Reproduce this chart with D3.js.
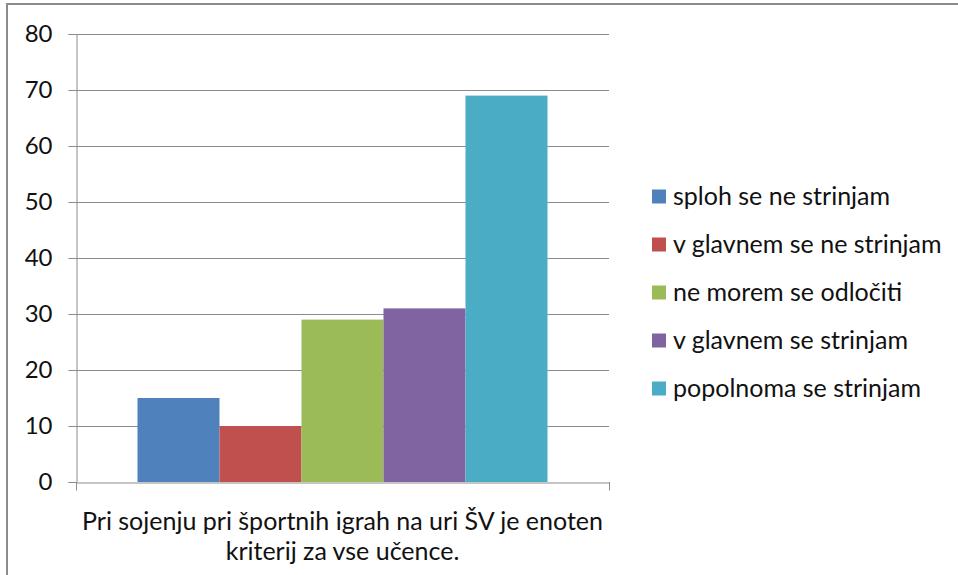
<!DOCTYPE html>
<html><head><meta charset="utf-8">
<script src="https://cdn.jsdelivr.net/npm/d3@7"></script>
<style>body{margin:0;background:#fff}svg{display:block}text{font-family:Lato,"Open Sans",sans-serif;fill:#111}</style>
</head><body>
<script>
const category = "Pri sojenju pri športnih igrah na uri ŠV je enoten kriterij za vse učence.";
const categoryLines = ["Pri sojenju pri športnih igrah na uri ŠV je enoten", "kriterij za vse učence."];
const seriesNames = ["sploh se ne strinjam","v glavnem se ne strinjam","ne morem se odločiti","v glavnem se strinjam","popolnoma se strinjam"];
const seriesValues = [15,10,29,31,69];
const colors = ["#4f81bd","#c0504d","#9bbb59","#8064a2","#4bacc6"];
const yTicks = [0,10,20,30,40,50,60,70,80];

const W=958,H=575;
const svg=d3.select("body").append("svg").attr("width",W).attr("height",H);
svg.append("rect").attr("x",7).attr("y",4).attr("width",W+20).attr("height",H+20)
  .attr("fill","none").attr("stroke","#8c8c8c").attr("stroke-width",2);

const L=76,R=609,T=34,B=482;
const y=d3.scaleLinear().domain([0,80]).range([B,T]);
const x0=d3.scaleBand().domain([category]).range([L,R]).paddingInner(0).paddingOuter(0.15);
const x1=d3.scaleBand().domain(seriesNames).range([x0(category),x0(category)+x0.bandwidth()]);

// gridlines
svg.append("g").selectAll("line").data(yTicks.filter(d=>d>0)).join("line")
  .attr("x1",L).attr("x2",R).attr("y1",d=>Math.round(y(d))+0.5).attr("y2",d=>Math.round(y(d))+0.5)
  .attr("stroke","#8c8c8c").attr("stroke-width",1);

// bars
svg.append("g").selectAll("rect").data(seriesNames).join("rect")
  .attr("x",d=>x1(d)).attr("width",x1.bandwidth())
  .attr("y",(d,i)=>y(seriesValues[i])).attr("height",(d,i)=>B-y(seriesValues[i]))
  .attr("fill",(d,i)=>colors[i]);

// y axis
const ya=svg.append("g").attr("transform",`translate(${L+0.5},0)`)
  .call(d3.axisLeft(y).tickValues(yTicks).tickSize(8).tickPadding(16).tickFormat(d3.format("d")));
ya.select(".domain").attr("stroke","#8c8c8c");
ya.selectAll(".tick line").attr("stroke","#8c8c8c");
ya.selectAll(".tick text").attr("font-size",24).attr("font-family","Lato,sans-serif").attr("fill","#111");

// x axis
const xa=svg.append("g").attr("transform",`translate(0,${B+0.5})`)
  .call(d3.axisBottom(x0).tickSizeOuter(0).tickSize(8).tickFormat(""));
xa.select(".domain").attr("stroke","#8c8c8c");
xa.selectAll(".tick").remove();
svg.append("g").selectAll("line").data([L,R]).join("line")
  .attr("x1",d=>d+0.5).attr("x2",d=>d+0.5).attr("y1",B).attr("y2",B+8).attr("stroke","#8c8c8c");

svg.append("g").selectAll("text").data(categoryLines).join("text")
  .attr("x",(L+R)/2).attr("y",(d,i)=>530+i*30).attr("text-anchor","middle")
  .attr("font-size",25).text(d=>d);

// legend
const lg=svg.append("g").selectAll("g").data(seriesNames).join("g")
  .attr("transform",(d,i)=>`translate(652,${196.5+i*48})`);
lg.append("rect").attr("x",0).attr("y",-7).attr("width",14).attr("height",14).attr("fill",(d,i)=>colors[i]);
lg.append("text").attr("x",21).attr("y",8).attr("font-size",25).text(d=>d);
</script>
</body></html>
